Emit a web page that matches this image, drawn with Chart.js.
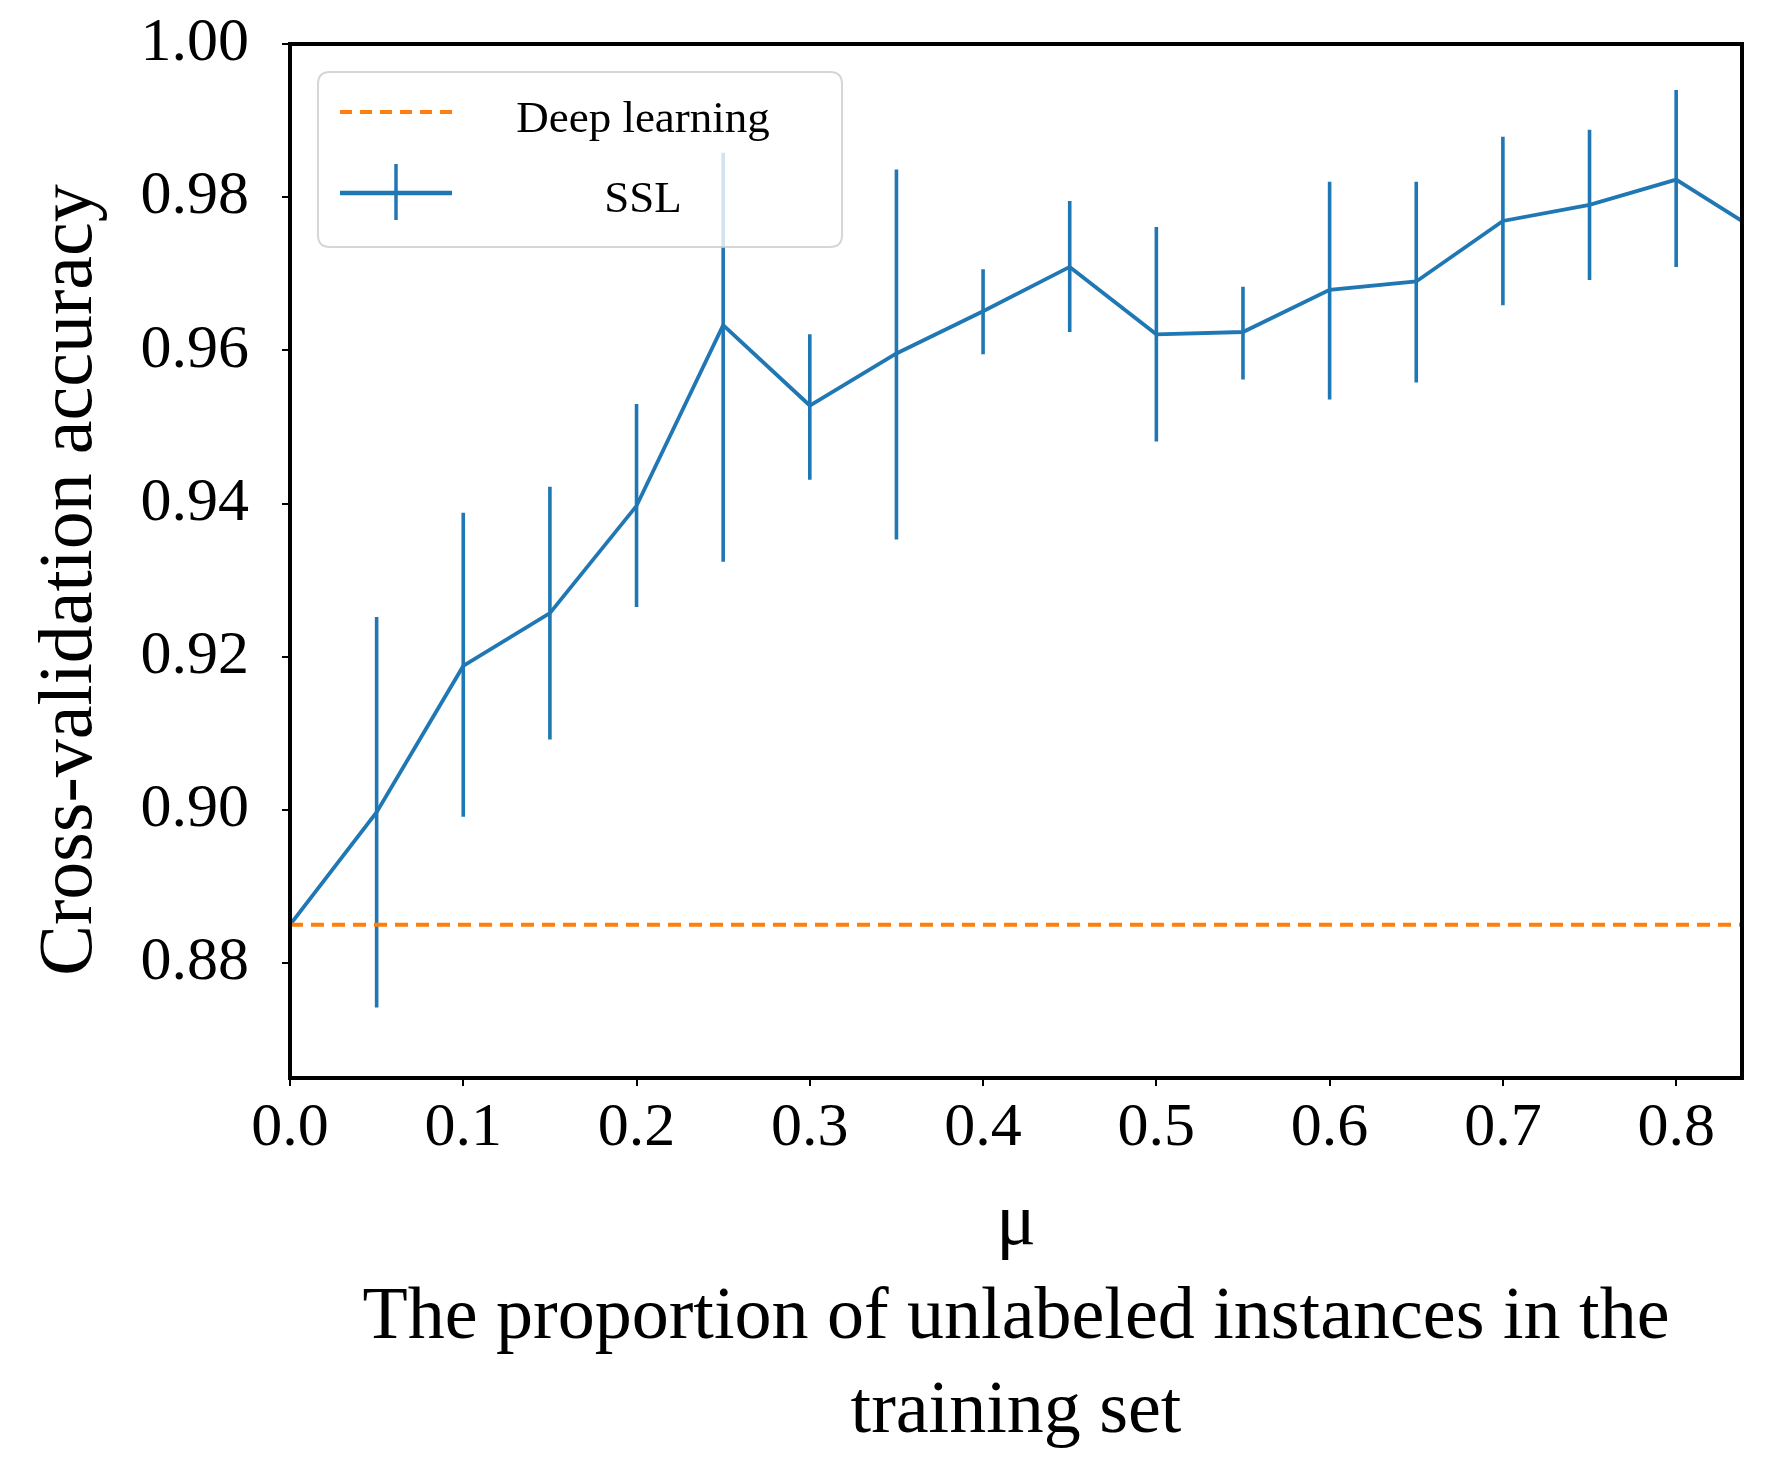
<!DOCTYPE html>
<html>
<head>
<meta charset="utf-8">
<script src="https://cdn.jsdelivr.net/npm/chart.js@4"></script>
<style>
  html, body { margin: 0; padding: 0; background: #ffffff; }
  canvas { display: block; }
</style>
</head>
<body>
<canvas id="c" width="1779" height="1473"></canvas>
<script>
// ---------------- data ----------------
const mu = [0.00, 0.05, 0.10, 0.15, 0.20, 0.25, 0.30, 0.35, 0.40, 0.45, 0.50, 0.55, 0.60, 0.65, 0.70, 0.75, 0.80, 0.85];
const sslAccuracy = [0.885, 0.8997, 0.9188, 0.9257, 0.9397, 0.9633, 0.9528, 0.9596, 0.9651, 0.9709, 0.9621, 0.9624, 0.9679, 0.9690, 0.9769, 0.9790, 0.9823, 0.9752];
const sslLower = [null, 0.8742, 0.8991, 0.9092, 0.9265, 0.9324, 0.9431, 0.9353, 0.9595, 0.9624, 0.9481, 0.9562, 0.9536, 0.9558, 0.9659, 0.9692, 0.9709, null];
const sslUpper = [null, 0.9252, 0.9388, 0.9422, 0.9530, 0.9858, 0.9621, 0.9836, 0.9706, 0.9795, 0.9761, 0.9683, 0.9820, 0.9820, 0.9879, 0.9888, 0.9940, null];
const deepLearningAccuracy = 0.885;
const xTicks = [0.0, 0.1, 0.2, 0.3, 0.4, 0.5, 0.6, 0.7, 0.8];
const yTicks = [0.88, 0.90, 0.92, 0.94, 0.96, 0.98, 1.00];
const xRange = [0, 0.838];
const yRange = [0.865, 1.0];
const seriesNames = ['Deep learning', 'SSL'];
const yTitle = 'Cross-validation accuracy';
const xTitle = ['μ', 'The proportion of unlabeled instances in the', 'training set'];

// ---------------- styles ----------------
const BLUE = '#1f77b4';
const ORANGE = '#ff7f0e';
const SERIF = "'Liberation Serif', 'Times New Roman', serif";

// build datasets from arrays
const sslPoints = mu.map((x, i) => ({ x: x, y: sslAccuracy[i] }));
const errPoints = [];
mu.forEach((x, i) => {
  if (sslLower[i] !== null && sslUpper[i] !== null) {
    errPoints.push({ x: x, y: sslLower[i] });
    errPoints.push({ x: x, y: sslUpper[i] });
    errPoints.push({ x: x, y: null });
  }
});
const dlPoints = [{ x: mu[0], y: deepLearningAccuracy }, { x: mu[mu.length - 1], y: deepLearningAccuracy }];

// y-axis title, frame and legend
const framePlugin = {
  id: 'frameAndLegend',
  afterDraw(chart) {
    const { ctx, chartArea: a } = chart;
    ctx.save();
    ctx.translate(a.left - 219, (a.top + a.bottom) / 2 + 19);
    ctx.rotate(-Math.PI / 2);
    ctx.fillStyle = '#000';
    ctx.font = '76px ' + SERIF;
    ctx.textAlign = 'center';
    ctx.textBaseline = 'middle';
    ctx.fillText(yTitle, 0, 0);
    ctx.restore();
  },
  afterDatasetsDraw(chart) {
    const { ctx, chartArea: a } = chart;
    ctx.save();
    // frame
    ctx.strokeStyle = '#000';
    ctx.lineWidth = 4;
    ctx.strokeRect(a.left, a.top, a.right - a.left, a.bottom - a.top);

    // legend box
    const bx = a.left + 28, by = a.top + 28, bw = 524, bh = 175, r = 12;
    ctx.beginPath();
    ctx.moveTo(bx + r, by);
    ctx.lineTo(bx + bw - r, by);
    ctx.quadraticCurveTo(bx + bw, by, bx + bw, by + r);
    ctx.lineTo(bx + bw, by + bh - r);
    ctx.quadraticCurveTo(bx + bw, by + bh, bx + bw - r, by + bh);
    ctx.lineTo(bx + r, by + bh);
    ctx.quadraticCurveTo(bx, by + bh, bx, by + bh - r);
    ctx.lineTo(bx, by + r);
    ctx.quadraticCurveTo(bx, by, bx + r, by);
    ctx.closePath();
    ctx.fillStyle = 'rgba(255,255,255,0.8)';
    ctx.fill();
    ctx.strokeStyle = 'rgba(204,204,204,0.8)';
    ctx.lineWidth = 2;
    ctx.stroke();

    // handle 1: dashed orange
    const hx0 = bx + 22, hx1 = bx + 134;
    ctx.strokeStyle = ORANGE;
    ctx.lineWidth = 4;
    ctx.setLineDash([12, 8]);
    ctx.beginPath();
    ctx.moveTo(hx0, by + 40);
    ctx.lineTo(hx1, by + 40);
    ctx.stroke();
    ctx.setLineDash([]);

    // handle 2: errorbar glyph
    ctx.strokeStyle = BLUE;
    ctx.lineWidth = 4.5;
    ctx.beginPath();
    ctx.moveTo(hx0, by + 121);
    ctx.lineTo(hx1, by + 121);
    ctx.stroke();
    ctx.lineWidth = 3.5;
    ctx.beginPath();
    ctx.moveTo((hx0 + hx1) / 2, by + 92);
    ctx.lineTo((hx0 + hx1) / 2, by + 148);
    ctx.stroke();

    // labels
    ctx.fillStyle = '#000';
    ctx.font = '45px ' + SERIF;
    ctx.textAlign = 'center';
    ctx.textBaseline = 'alphabetic';
    ctx.fillText(seriesNames[0], bx + 325, by + 60);
    ctx.fillText(seriesNames[1], bx + 325, by + 140);
    ctx.restore();
  }
};

new Chart(document.getElementById('c'), {
  type: 'line',
  data: {
    datasets: [
      {
        label: seriesNames[0],
        data: dlPoints,
        borderColor: ORANGE,
        borderWidth: 4,
        borderDash: [13, 8],
        pointRadius: 0,
        fill: false,
        clip: 0
      },
      {
        label: seriesNames[1],
        data: sslPoints,
        borderColor: BLUE,
        borderWidth: 3.8,
        pointRadius: 0,
        fill: false,
        tension: 0,
        clip: 0
      },
      {
        label: seriesNames[1] + ' error',
        data: errPoints,
        borderColor: BLUE,
        borderWidth: 3.6,
        pointRadius: 0,
        fill: false,
        spanGaps: false,
        clip: 0
      }
    ]
  },
  options: {
    responsive: false,
    animation: false,
    devicePixelRatio: 1,
    layout: { padding: { top: 44, right: 37, bottom: 0, left: 0 } },
    plugins: {
      legend: { display: false },
      tooltip: { enabled: false },
      title: { display: false }
    },
    scales: {
      x: {
        type: 'linear',
        min: xRange[0],
        max: xRange[1],
        afterBuildTicks(s) { s.ticks = xTicks.map(v => ({ value: v })); },
        afterFit(s) { s.height = 395; s.paddingLeft = 0; s.paddingRight = 0; },
        grid: { display: true, drawOnChartArea: false, drawTicks: true, tickLength: 8, color: '#000', lineWidth: 2 },
        border: { display: false },
        ticks: {
          color: '#000',
          font: { family: SERIF, size: 62 },
          padding: 6,
          maxRotation: 0,
          autoSkip: false,
          callback: v => Number(v).toFixed(1)
        },
        title: {
          display: true,
          text: xTitle,
          color: '#000',
          font: { family: SERIF, size: 74, lineHeight: 1.27 },
          padding: { top: 0, bottom: 13 }
        }
      },
      y: {
        type: 'linear',
        min: yRange[0],
        max: yRange[1],
        afterBuildTicks(s) { s.ticks = yTicks.map(v => ({ value: v })); },
        afterFit(s) { s.width = 290; s.paddingTop = 0; s.paddingBottom = 0; },
        grid: { display: true, drawOnChartArea: false, drawTicks: true, tickLength: 8, color: '#000', lineWidth: 2 },
        border: { display: false },
        ticks: {
          color: '#000',
          font: { family: SERIF, size: 62 },
          padding: 33,
          autoSkip: false,
          callback: v => Number(v).toFixed(2)
        },
        title: { display: false, text: yTitle }
      }
    }
  },
  plugins: [framePlugin]
});
</script>
</body>
</html>
